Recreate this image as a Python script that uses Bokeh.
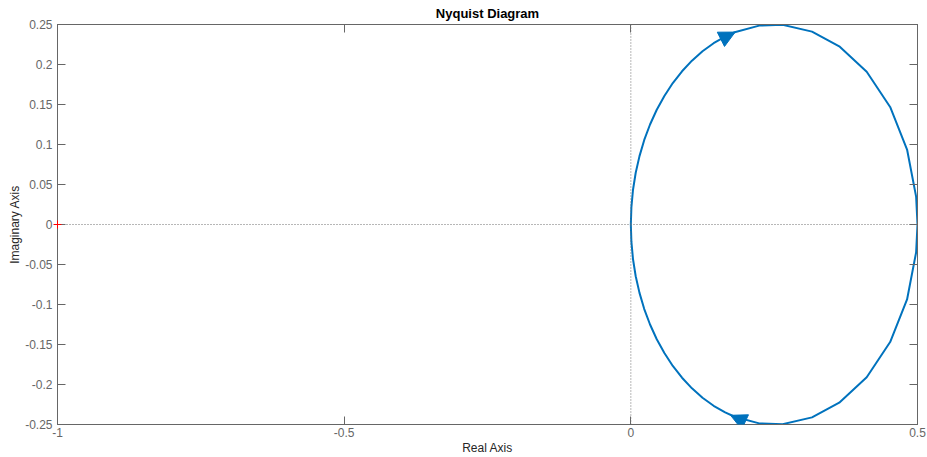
from bokeh.plotting import figure
from bokeh.models import (Range1d, FixedTicker, CustomJSTickFormatter, LinearAxis,
                          Span, Arrow, NormalHead, ColumnDataSource)
from bokeh.embed import file_html
from bokeh.resources import INLINE

# Nyquist curve (real, imaginary), traversed clockwise from origin
re_upper = [0.0, 0.001, 0.0038, 0.0085, 0.0151, 0.0234, 0.0335, 0.0452, 0.0585, 0.0732,
            0.0893, 0.1066, 0.125, 0.1444, 0.1645, 0.1811, 0.2239, 0.2648, 0.316, 0.3635,
            0.4114, 0.4523, 0.4818, 0.4976, 0.5]
im_upper = [0.0, 0.0218, 0.0434, 0.0647, 0.0855, 0.1057, 0.125, 0.1434, 0.1607, 0.1768,
            0.1915, 0.2048, 0.2165, 0.2266, 0.2349, 0.2403, 0.2486, 0.2496, 0.2411, 0.2228,
            0.1909, 0.1469, 0.0937, 0.0348, 0.0]
re_lower = [0.4976, 0.4818, 0.4523, 0.4114, 0.3635, 0.316, 0.2648, 0.2239, 0.1811, 0.1645,
            0.1444, 0.125, 0.1066, 0.0893, 0.0732, 0.0585, 0.0452, 0.0335, 0.0234, 0.0151,
            0.0085, 0.0038, 0.001, 0.0]
im_lower = [-0.0348, -0.0937, -0.1469, -0.1909, -0.2228, -0.2411, -0.2496, -0.2486, -0.2403,
            -0.2349, -0.2266, -0.2165, -0.2048, -0.1915, -0.1768, -0.1607, -0.1434, -0.125,
            -0.1057, -0.0855, -0.0647, -0.0434, -0.0218, 0.0]

# direction arrows (start -> tip)
arrow_x_start = [0.158, 0.198]
arrow_y_start = [0.2318, -0.2465]
arrow_x_end = [0.182, 0.174]
arrow_y_end = [0.2405, -0.2385]

# critical point
crit_x = [-1.0]
crit_y = [0.0]

x_ticks = [-1, -0.5, 0, 0.5]
y_ticks = [-0.25, -0.2, -0.15, -0.1, -0.05, 0, 0.05, 0.1, 0.15, 0.2, 0.25]

BLUE = "#0072BD"
AX = "#666666"
FONT = "Liberation Sans"

p = figure(width=927, height=457, x_range=Range1d(-1, 0.5), y_range=Range1d(-0.25, 0.25),
           output_backend="svg", toolbar_location=None,
           min_border_left=57, min_border_right=10, min_border_top=24, min_border_bottom=32,
           title="Nyquist Diagram")
p.title.align = "center"
p.title.vertical_align = "top"
p.title.text_font = FONT
p.title.text_font_size = "13px"
p.title.text_font_style = "bold"
p.title.text_color = "#000000"
p.title.standoff = 4
p.title.offset = 0

p.xgrid.visible = False
p.ygrid.visible = False
p.outline_line_color = AX
p.background_fill_color = "white"
p.border_fill_color = "white"

fmt = CustomJSTickFormatter(code="return tick.toString();")

def style_axis(ax, ticks, labels=True):
    ax.ticker = FixedTicker(ticks=ticks)
    ax.axis_line_color = AX
    ax.major_tick_line_color = AX
    ax.major_tick_in = 8
    ax.major_tick_out = 0
    ax.minor_tick_line_color = None
    ax.axis_label_text_font = FONT
    ax.axis_label_text_font_style = "normal"
    ax.axis_label_text_color = "#262626"
    ax.axis_label_text_font_size = "12px"
    if labels:
        ax.formatter = fmt
        ax.major_label_text_font = FONT
        ax.major_label_text_font_size = "12px"
        ax.major_label_text_color = AX
    else:
        ax.formatter = CustomJSTickFormatter(code="return '';")
        ax.major_label_text_color = None
        ax.major_label_text_font_size = "0px"
        ax.major_label_standoff = 0

style_axis(p.xaxis[0], x_ticks)
style_axis(p.yaxis[0], y_ticks)
p.xaxis[0].axis_label = "Real Axis"
p.yaxis[0].axis_label = "Imaginary Axis"
p.xaxis[0].major_label_standoff = 3
p.xaxis[0].axis_label_standoff = 1
p.yaxis[0].major_label_standoff = 5
p.yaxis[0].axis_label_standoff = 0

top_ax = LinearAxis()
style_axis(top_ax, x_ticks, labels=False)
p.add_layout(top_ax, "above")
right_ax = LinearAxis()
style_axis(right_ax, y_ticks, labels=False)
p.add_layout(right_ax, "right")

# dotted zero lines
p.add_layout(Span(location=0, dimension="width", line_color="#6f6f6f", line_dash="1 2", line_width=1))
p.add_layout(Span(location=0, dimension="height", line_color="#6f6f6f", line_dash="1 2", line_width=1))

# curve
p.line(re_upper + re_lower, im_upper + im_lower, line_color=BLUE, line_width=2, line_join="round")

# arrows
asrc = ColumnDataSource(dict(xs=arrow_x_start, ys=arrow_y_start, xe=arrow_x_end, ye=arrow_y_end))
p.add_layout(Arrow(end=NormalHead(size=16, fill_color=BLUE, line_color=BLUE, line_width=1),
                   x_start="xs", y_start="ys", x_end="xe", y_end="ye", source=asrc,
                   line_color=BLUE, line_width=2))

# critical point
p.scatter(crit_x, crit_y, marker="cross", size=8, line_color="red", line_width=1, level="overlay")

open("out.html", "w").write(file_html(p, INLINE))
